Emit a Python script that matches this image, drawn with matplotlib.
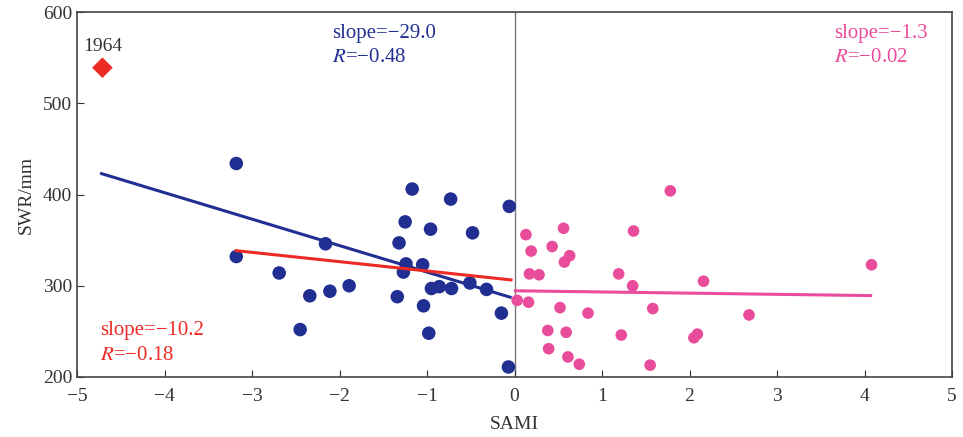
import matplotlib.pyplot as plt

plt.rcParams['font.family'] = ['Liberation Serif', 'DejaVu Serif']
plt.rcParams['mathtext.fontset'] = 'stix'
plt.rcParams['axes.unicode_minus'] = True

# SAMI < 0 years
neg_sami = [-3.18, -1.17, -0.73, -0.06, -1.25, -0.96, -0.48, -2.16, -1.32, -3.18,
            -1.24, -1.05, -1.27, -2.69, -1.89, -2.11, -2.34, -1.34, -0.95, -0.86,
            -0.72, -0.51, -0.32, -1.04, -0.15, -2.45, -0.98, -0.07]
neg_swr = [434, 406, 395, 387, 370, 362, 358, 346, 347, 332,
           324, 323, 315, 314, 300, 294, 289, 288, 297, 299,
           297, 303, 296, 278, 270, 252, 248, 211]

# SAMI > 0 years
pos_sami = [1.78, 0.13, 0.56, 1.36, 0.19, 0.43, 0.63, 0.57, 4.08, 0.17,
            0.28, 1.19, 2.16, 1.35, 0.03, 0.16, 0.52, 1.58, 0.84, 2.68,
            0.38, 0.59, 1.22, 2.05, 2.09, 0.39, 0.61, 0.74, 1.55]
pos_swr = [404, 356, 363, 360, 338, 343, 333, 326, 323, 313,
           312, 313, 305, 300, 284, 282, 276, 275, 270, 268,
           251, 249, 246, 243, 247, 231, 222, 214, 213]

# outlier year
out_sami = [-4.71]
out_swr = [539]
out_label = '1964'

# regression lines (slope, intercept, x range)
blue_fit = (-29.0, 286.0, [-4.72, -0.05])
red_fit = (-10.2, 306.0, [-3.18, -0.04])
pink_fit = (-1.3, 294.5, [0.01, 4.07])

blue = '#212e92'
red = '#ee2a24'
pink = '#ea4c9c'

fig = plt.figure(figsize=(9.63, 4.37), dpi=100)
ax = fig.add_axes([0.080, 0.1373, 0.9086, 0.8352])

ax.axvline(0, color='#777777', lw=1.0, zorder=1)

for (k, b, xr), c in [(blue_fit, blue), (red_fit, red), (pink_fit, pink)]:
    ax.plot(xr, [k * x + b for x in xr], color=c, lw=2.2, zorder=3)

ax.scatter(neg_sami, neg_swr, s=95, color=blue, edgecolors='none', zorder=2)
ax.scatter(pos_sami, pos_swr, s=70, color=pink, edgecolors='none', zorder=2)
ax.scatter(out_sami, out_swr, s=110, marker='D', color=red, edgecolors='none', zorder=2)
ax.text(out_sami[0], out_swr[0] + 14, out_label, ha='center', va='bottom', fontsize=14, color='#333333')

fs = 15
ax.text(-2.09, 576, 'slope=\u221229.0', color=blue, fontsize=fs, va='center')
ax.text(-2.09, 550, '$R$=\u22120.48', color=blue, fontsize=fs, va='center')
ax.text(3.65, 576, 'slope=\u22121.3', color=pink, fontsize=fs, va='center')
ax.text(3.65, 550, '$R$=\u22120.02', color=pink, fontsize=fs, va='center')
ax.text(-4.74, 251, 'slope=\u221210.2', color=red, fontsize=fs, va='center')
ax.text(-4.74, 224, '$R$=\u22120.18', color=red, fontsize=fs, va='center')

ax.set_xlim(-5, 5)
ax.set_ylim(200, 600)
ax.set_xticks(range(-5, 6))
ax.set_yticks(range(200, 601, 100))
ax.tick_params(direction='in', labelsize=14, length=5, top=False, right=False,
               colors='#333333')
ax.tick_params(axis='x', pad=8)
ax.set_xlabel('SAMI', fontsize=14, color='#333333', labelpad=8)
ax.set_ylabel('SWR/mm', fontsize=14, color='#333333', labelpad=6)
for s in ax.spines.values():
    s.set_color('#444444')
    s.set_linewidth(1.2)

fig.savefig('out.png', dpi=100)
